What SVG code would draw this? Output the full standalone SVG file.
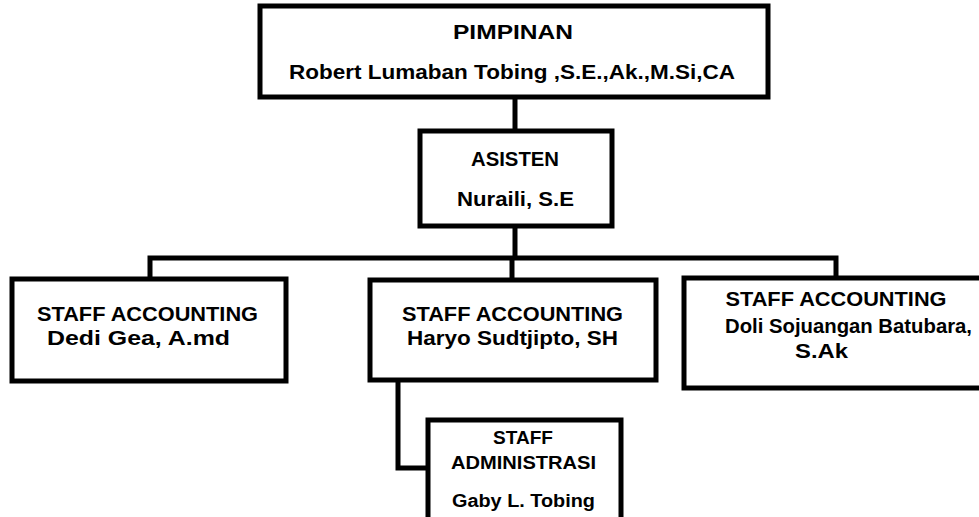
<svg xmlns="http://www.w3.org/2000/svg" width="979" height="517" viewBox="0 0 979 517">
<style>
.box{fill:#fff;stroke:#000;stroke-width:5}
.ln{fill:none;stroke:#000;stroke-width:5}
text{font-family:"Liberation Sans",Arial,sans-serif;font-weight:bold;fill:#000}
</style>
<rect width="979" height="517" fill="#fff"/>
<g id="connectors">
<line class="ln" x1="515" y1="97" x2="515" y2="131"/>
<line class="ln" x1="515" y1="226" x2="515" y2="258"/>
<polyline class="ln" points="150,279 150,258 836,258 836,278"/>
<line class="ln" x1="512" y1="258" x2="512" y2="280"/>
<polyline class="ln" points="398,380 398,468 428,468"/>
</g>
<g id="pimpinan">
<rect class="box" x="260" y="6" width="508" height="91"/>
<text x="513" y="39" font-size="20" text-anchor="middle" textLength="120" lengthAdjust="spacingAndGlyphs">PIMPINAN</text>
<text x="512" y="79" font-size="20" text-anchor="middle" textLength="446" lengthAdjust="spacingAndGlyphs">Robert Lumaban Tobing ,S.E.,Ak.,M.Si,CA</text>
</g>
<g id="asisten">
<rect class="box" x="420" y="131" width="192" height="95"/>
<text x="515" y="166" font-size="21" text-anchor="middle" textLength="88" lengthAdjust="spacingAndGlyphs">ASISTEN</text>
<text x="515.5" y="206" font-size="21" text-anchor="middle" textLength="117" lengthAdjust="spacingAndGlyphs">Nuraili, S.E</text>
</g>
<g id="staff1">
<rect class="box" x="12" y="279" width="274" height="102"/>
<text x="147.5" y="320.5" font-size="21" text-anchor="middle" textLength="221" lengthAdjust="spacingAndGlyphs">STAFF ACCOUNTING</text>
<text x="138.5" y="344.5" font-size="21" text-anchor="middle" textLength="183" lengthAdjust="spacingAndGlyphs">Dedi Gea, A.md</text>
</g>
<g id="staff2">
<rect class="box" x="370" y="280" width="286" height="100"/>
<text x="512.5" y="321" font-size="21" text-anchor="middle" textLength="221" lengthAdjust="spacingAndGlyphs">STAFF ACCOUNTING</text>
<text x="512.5" y="345" font-size="21" text-anchor="middle" textLength="211" lengthAdjust="spacingAndGlyphs">Haryo Sudtjipto, SH</text>
</g>
<g id="staff3">
<rect class="box" x="684" y="278" width="320" height="110"/>
<text x="836" y="306" font-size="21" text-anchor="middle" textLength="221" lengthAdjust="spacingAndGlyphs">STAFF ACCOUNTING</text>
<text x="848.5" y="333" font-size="21" text-anchor="middle" textLength="247" lengthAdjust="spacingAndGlyphs">Doli Sojuangan Batubara,</text>
<text x="821.5" y="358" font-size="21" text-anchor="middle" textLength="53" lengthAdjust="spacingAndGlyphs">S.Ak</text>
</g>
<g id="admin">
<rect class="box" x="428" y="420" width="193" height="110"/>
<text x="523" y="444" font-size="18" text-anchor="middle" textLength="60" lengthAdjust="spacingAndGlyphs">STAFF</text>
<text x="523.5" y="469" font-size="18" text-anchor="middle" textLength="145" lengthAdjust="spacingAndGlyphs">ADMINISTRASI</text>
<text x="523.5" y="507" font-size="18" text-anchor="middle" textLength="143" lengthAdjust="spacingAndGlyphs">Gaby L. Tobing</text>
</g>
</svg>
